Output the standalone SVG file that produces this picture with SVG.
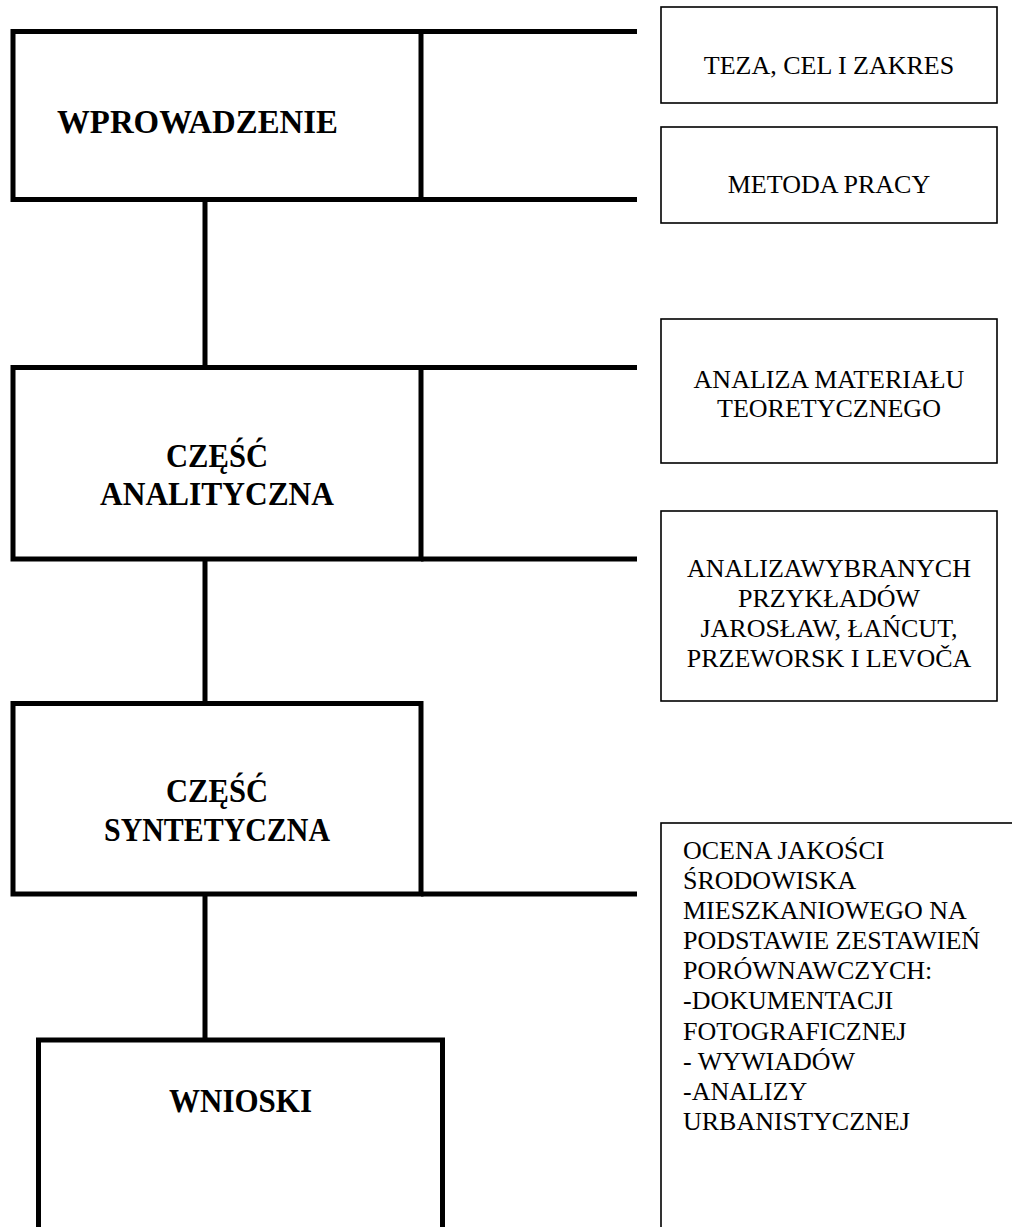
<svg xmlns="http://www.w3.org/2000/svg" width="1012" height="1227" viewBox="0 0 1012 1227">
<style>
.thick{fill:none;stroke:#000;stroke-width:5;stroke-linecap:butt;stroke-linejoin:miter}
.thin{fill:#fff;stroke:#000;stroke-width:1.6}
.bold{font-family:"Liberation Serif","Times New Roman",serif;font-weight:bold;font-size:33px;fill:#000}
.reg{font-family:"Liberation Serif","Times New Roman",serif;font-size:26px;fill:#000}
.c{text-anchor:middle}
</style>
<rect width="1012" height="1227" fill="#fff"/>
<g id="connectors">
<line class="thick" x1="421" y1="31.5" x2="637" y2="31.5"/>
<line class="thick" x1="421" y1="199.5" x2="637" y2="199.5"/>
<line class="thick" x1="421" y1="367.5" x2="637" y2="367.5"/>
<line class="thick" x1="421" y1="559" x2="637" y2="559"/>
<line class="thick" x1="421" y1="894" x2="637" y2="894"/>
<line class="thick" x1="205" y1="199.5" x2="205" y2="367.5"/>
<line class="thick" x1="205" y1="559" x2="205" y2="703.5"/>
<line class="thick" x1="205" y1="894" x2="205" y2="1040"/>
</g>
<g id="wprowadzenie">
<rect class="thick" x="13" y="31.5" width="408" height="168"/>
<text class="bold" x="57" y="133" textLength="281" lengthAdjust="spacingAndGlyphs">WPROWADZENIE</text>
</g>
<g id="czesc-analityczna">
<rect class="thick" x="13" y="367.5" width="408" height="191.5"/>
<text class="bold c" x="217" y="467" textLength="102" lengthAdjust="spacingAndGlyphs">CZĘŚĆ</text>
<text class="bold c" x="217" y="505" textLength="234" lengthAdjust="spacingAndGlyphs">ANALITYCZNA</text>
</g>
<g id="czesc-syntetyczna">
<rect class="thick" x="13" y="703.5" width="408" height="190.5"/>
<text class="bold c" x="217" y="802" textLength="102" lengthAdjust="spacingAndGlyphs">CZĘŚĆ</text>
<text class="bold c" x="217" y="841" textLength="226" lengthAdjust="spacingAndGlyphs">SYNTETYCZNA</text>
</g>
<g id="wnioski">
<rect class="thick" x="38.5" y="1040" width="404" height="220"/>
<text class="bold c" x="240.5" y="1112" textLength="143" lengthAdjust="spacingAndGlyphs">WNIOSKI</text>
</g>
<g id="teza">
<rect class="thin" x="661" y="7" width="336" height="96"/>
<text class="reg c" x="829" y="74">TEZA, CEL I ZAKRES</text>
</g>
<g id="metoda">
<rect class="thin" x="661" y="127" width="336" height="96"/>
<text class="reg c" x="829" y="193">METODA PRACY</text>
</g>
<g id="analiza-materialu">
<rect class="thin" x="661" y="319" width="336" height="144"/>
<text class="reg c" x="829" y="388">ANALIZA MATERIAŁU</text>
<text class="reg c" x="829" y="417">TEORETYCZNEGO</text>
</g>
<g id="analiza-przykladow">
<rect class="thin" x="661" y="511" width="336" height="190"/>
<text class="reg c" x="829" y="577">ANALIZAWYBRANYCH</text>
<text class="reg c" x="829" y="607">PRZYKŁADÓW</text>
<text class="reg c" x="829" y="637">JAROSŁAW, ŁAŃCUT,</text>
<text class="reg c" x="829" y="667">PRZEWORSK I LEVOČA</text>
</g>
<g id="ocena">
<rect class="thin" x="661" y="823" width="380" height="420"/>
<text class="reg" x="683" y="859">OCENA JAKOŚCI</text>
<text class="reg" x="683" y="889">ŚRODOWISKA</text>
<text class="reg" x="683" y="919">MIESZKANIOWEGO NA</text>
<text class="reg" x="683" y="949">PODSTAWIE ZESTAWIEŃ</text>
<text class="reg" x="683" y="979">PORÓWNAWCZYCH:</text>
<text class="reg" x="683" y="1009">-DOKUMENTACJI</text>
<text class="reg" x="683" y="1040">FOTOGRAFICZNEJ</text>
<text class="reg" x="683" y="1070">- WYWIADÓW</text>
<text class="reg" x="683" y="1100">-ANALIZY</text>
<text class="reg" x="683" y="1130">URBANISTYCZNEJ</text>
</g>
</svg>
